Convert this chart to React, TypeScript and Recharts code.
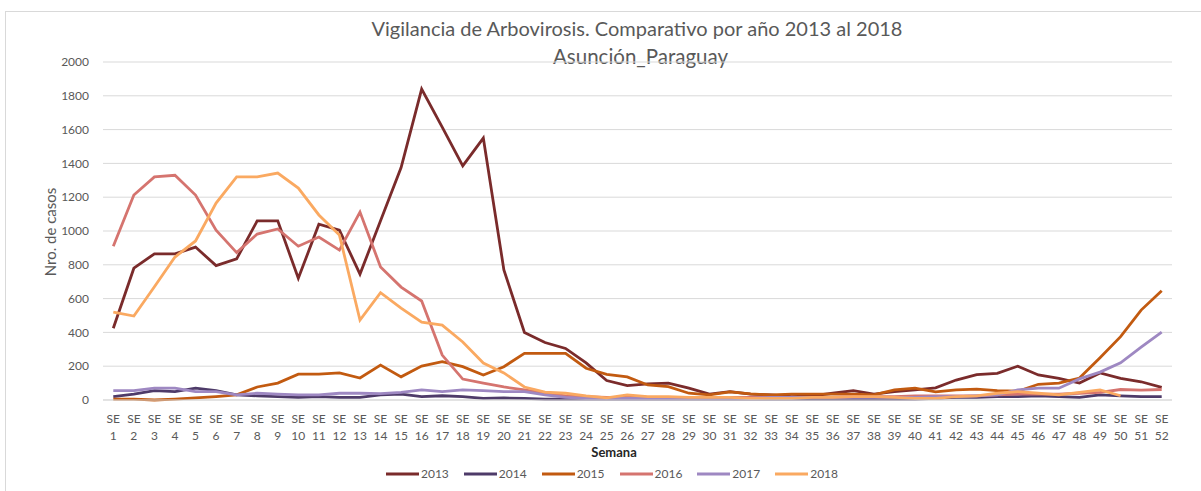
import React from 'react';
import { LineChart, Line, XAxis, YAxis, CartesianGrid, Legend } from 'recharts';

const weeks = [
  'SE 1', 'SE 2', 'SE 3', 'SE 4', 'SE 5', 'SE 6', 'SE 7', 'SE 8', 'SE 9', 'SE 10',
  'SE 11', 'SE 12', 'SE 13', 'SE 14', 'SE 15', 'SE 16', 'SE 17', 'SE 18', 'SE 19', 'SE 20',
  'SE 21', 'SE 22', 'SE 23', 'SE 24', 'SE 25', 'SE 26', 'SE 27', 'SE 28', 'SE 29', 'SE 30',
  'SE 31', 'SE 32', 'SE 33', 'SE 34', 'SE 35', 'SE 36', 'SE 37', 'SE 38', 'SE 39', 'SE 40',
  'SE 41', 'SE 42', 'SE 43', 'SE 44', 'SE 45', 'SE 46', 'SE 47', 'SE 48', 'SE 49', 'SE 50',
  'SE 51', 'SE 52',
];

const y2013 = [425, 780, 865, 865, 905, 795, 835, 1060, 1060, 720, 1040, 1005, 745, 1060, 1375, 1840, 1615, 1385, 1550, 770, 400, 340, 305, 220, 115, 85, 95, 100, 70, 35, 50, 35, 30, 20, 25, 40, 55, 35, 50, 60, 72, 118, 150, 158, 200, 148, 128, 100, 160, 128, 108, 75];
const y2014 = [20, 35, 55, 50, 70, 55, 30, 25, 20, 15, 20, 15, 15, 30, 35, 20, 25, 20, 10, 12, 10, 5, 5, 5, 5, 5, 5, 5, 5, 5, 5, 5, 5, 5, 5, 5, 5, 5, 5, 5, 10, 15, 15, 20, 20, 25, 20, 15, 30, 25, 20, 20];
const y2015 = [5, 5, 0, 5, 12, 20, 30, 77, 100, 153, 153, 160, 130, 207, 137, 201, 227, 197, 148, 197, 276, 276, 276, 188, 152, 137, 89, 79, 40, 30, 48, 36, 30, 35, 35, 35, 35, 30, 60, 70, 48, 60, 64, 55, 52, 93, 100, 130, 250, 375, 532, 647];
const y2016 = [910, 1213, 1320, 1330, 1213, 1005, 872, 982, 1012, 910, 964, 887, 1112, 787, 668, 586, 266, 124, 100, 77, 60, 40, 25, 20, 15, 15, 15, 15, 15, 15, 15, 15, 15, 15, 15, 15, 20, 20, 20, 25, 25, 25, 25, 30, 35, 35, 35, 40, 45, 62, 58, 62];
const y2017 = [55, 55, 70, 70, 50, 50, 30, 40, 35, 30, 30, 40, 40, 38, 45, 60, 50, 60, 55, 50, 50, 30, 15, 10, 10, 10, 10, 10, 10, 10, 10, 10, 15, 15, 15, 15, 15, 15, 15, 15, 20, 20, 25, 30, 60, 70, 70, 125, 165, 220, 313, 402];
const y2018 = [520, 497, 670, 846, 941, 1165, 1320, 1320, 1343, 1254, 1095, 976, 473, 635, 544, 461, 443, 343, 219, 160, 77, 47, 40, 24, 13, 30, 20, 20, 15, 15, 15, 10, 10, 10, 15, 15, 20, 20, 15, 10, 10, 20, 25, 40, 50, 40, 30, 45, 60, 25, null, null];

const yTicks = [0, 200, 400, 600, 800, 1000, 1200, 1400, 1600, 1800, 2000];

const seriesNames = ['2013', '2014', '2015', '2016', '2017', '2018'];
const seriesColors = ['#7A2B2B', '#4E3B69', '#C25A10', '#D5746F', '#9E88C2', '#FAA961'];
const seriesValues = [y2013, y2014, y2015, y2016, y2017, y2018];

const data = weeks.map((w, i) => {
  const row: Record<string, string | number | null> = { week: w };
  seriesNames.forEach((n, k) => {
    row[n] = seriesValues[k][i];
  });
  return row;
});

const FONT = 'Lato, "Open Sans", sans-serif';
const TEXT = '#595959';

const WeekTick = (props: any) => {
  const { x, y, payload } = props;
  const parts = String(payload.value).split(' ');
  return (
    <text x={x} y={y} textAnchor="middle" fill={TEXT} fontSize={12} fontFamily={FONT}>
      <tspan x={x} dy={15}>{parts[0]}</tspan>
      <tspan x={x} dy={17}>{parts[1]}</tspan>
    </text>
  );
};

const LegendContent = () => (
  <div
    style={{
      display: 'flex',
      justifyContent: 'center',
      paddingLeft: 23,
      fontFamily: FONT,
      fontSize: 12,
      color: TEXT,
    }}
  >
    {seriesNames.map((n, k) => (
      <div key={n} style={{ display: 'flex', alignItems: 'center', marginRight: k < seriesNames.length - 1 ? 15 : 0 }}>
        <svg width={33} height={6} style={{ marginRight: 2 }}>
          <line x1={0} y1={3} x2={33} y2={3} stroke={seriesColors[k]} strokeWidth={3} />
        </svg>
        <span style={{ lineHeight: '14px' }}>{n}</span>
      </div>
    ))}
  </div>
);

export default function App() {
  return (
    <div
      style={{
        position: 'absolute',
        left: 0,
        top: 0,
        width: 1201,
        height: 491,
        background: '#ffffff',
        overflow: 'hidden',
      }}
    >
      <div
        style={{
          position: 'absolute',
          left: 5,
          top: 11,
          width: 1300,
          height: 600,
          border: '1px solid #D9D9D9',
          boxSizing: 'border-box',
        }}
      />
      <div
        style={{
          position: 'absolute',
          left: 0,
          width: 1274,
          top: 15,
          textAlign: 'center',
          fontFamily: FONT,
          fontSize: 20,
          color: TEXT,
          lineHeight: '26px',
        }}
      >
        Vigilancia de Arbovirosis. Comparativo por año 2013 al 2018
      </div>
      <div
        style={{
          position: 'absolute',
          left: 0,
          width: 1281,
          top: 43,
          textAlign: 'center',
          fontFamily: FONT,
          fontSize: 20.5,
          color: TEXT,
          lineHeight: '26px',
        }}
      >
        Asunción_Paraguay
      </div>
      <div style={{ position: 'absolute', left: 0, top: 0 }}>
        <LineChart
          width={1201}
          height={491}
          data={data}
          margin={{ top: 62, right: 29, bottom: 41, left: 63 }}
        >
          <CartesianGrid vertical={false} stroke="#D9D9D9" strokeWidth={1} />
          <XAxis
            dataKey="week"
            interval={0}
            tickLine={false}
            axisLine={{ stroke: '#D9D9D9' }}
            padding={{ left: 10.3, right: 10.3 }}
            height={50}
            tick={<WeekTick />}
            label={(p: any) => (
              <text
                x={614}
                y={457}
                textAnchor="middle"
                fontFamily={FONT}
                fontSize={13}
                fontWeight="bold"
                fill="#262626"
              >
                Semana
              </text>
            )}
          />
          <YAxis
            domain={[0, 2000]}
            ticks={yTicks}
            width={40}
            tickLine={false}
            axisLine={false}
            tickMargin={8}
            tick={{ fill: TEXT, fontSize: 12, fontFamily: FONT }}
            label={(p: any) => (
              <text
                x={50}
                y={232}
                transform="rotate(-90 50 232)"
                textAnchor="middle"
                dominantBaseline="central"
                fontFamily={FONT}
                fontSize={15}
                fill={TEXT}
              >
                Nro. de casos
              </text>
            )}
          />
          <Legend
            verticalAlign="middle"
            align="center"
            layout="horizontal"
            content={<LegendContent />}
            wrapperStyle={{ left: 0, top: 467, width: 1201 }}
          />
          {seriesNames.map((n, k) => (
            <Line
              key={n}
              type="linear"
              dataKey={n}
              stroke={seriesColors[k]}
              strokeWidth={2.8}
              dot={false}
              activeDot={false}
              isAnimationActive={false}
              connectNulls={false}
            />
          ))}
        </LineChart>
      </div>
    </div>
  );
}
